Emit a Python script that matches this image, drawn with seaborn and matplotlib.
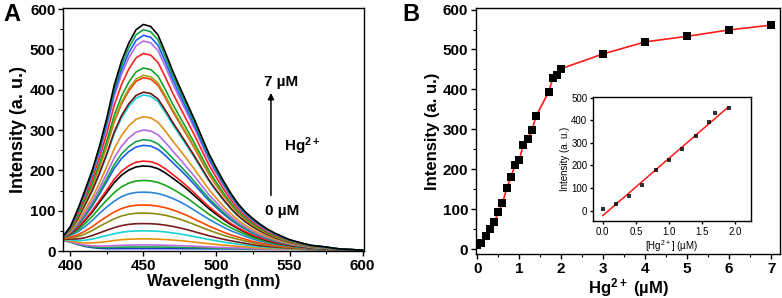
import numpy as np
import pandas as pd
import matplotlib
matplotlib.use("Agg")
import matplotlib.pyplot as plt
from matplotlib.ticker import MultipleLocator, FormatStrFormatter
import seaborn as sns

# ---------------- data ----------------
# Panel A: emission spectra
wavelength = list(range(395, 601, 5))
# top (7 uM) spectrum, absolute intensities
top_spectrum = [36, 60, 102, 150, 200, 260, 330, 410, 470, 515, 548, 561, 556, 535,
                492, 446, 405, 365, 325, 282, 240, 205, 172, 142, 116, 96, 80, 66,
                54, 44, 36, 28, 23, 18, 14, 12, 10, 7, 5, 4, 3, 2]
# normalised shape of the low-intensity spectra
broad_shape = [0.05, 0.12, 0.22, 0.35, 0.48, 0.62, 0.74, 0.84, 0.92, 0.97, 0.995, 1.0,
               0.995, 0.975, 0.94, 0.89, 0.83, 0.76, 0.68, 0.60, 0.52, 0.45, 0.38,
               0.32, 0.27, 0.22, 0.18, 0.145, 0.115, 0.09, 0.07, 0.055, 0.042,
               0.032, 0.024, 0.018, 0.013, 0.009, 0.006, 0.004, 0.003, 0.002]
# baseline (0 uM background)
baseline = [26, 22, 16, 11, 8, 6] + [5] * 20 + [4] * 8 + [3] * 4 + [2] * 4
# peak intensity of every spectrum (low -> high)
spectrum_peaks = [6, 10, 15, 30, 50, 68, 94, 114, 146, 175, 211, 223, 262, 276, 300,
                  333, 387, 394, 430, 436, 454, 490, 521, 535, 549, 562]
spectrum_colors = ['#1a3cc8', '#16a34a', '#c36be0', '#e8900c', '#19d3d3', '#7b1c1c',
                   '#8a8a12', '#ff4500', '#2a85d8', '#1aa31a', '#000000', '#ff1a1a',
                   '#1a5ee8', '#14a04a', '#b36be6', '#e0901a', '#1ad0d8', '#6b1414',
                   '#ff3a0a', '#a8a018', '#14a02a', '#ff2020', '#b86ae8', '#1a5eff',
                   '#10a050', '#000000']
broad_cap = 150

# Panel B: titration curve
hg_conc = [0, 0.1, 0.2, 0.3, 0.4, 0.5, 0.6, 0.7, 0.8, 0.9, 1.0, 1.1, 1.2, 1.3, 1.4,
           1.7, 1.8, 1.9, 2.0, 3, 4, 5, 6, 7]
hg_intensity = [10, 15, 32, 50, 67, 92, 115, 152, 180, 210, 224, 262, 275, 298, 333,
                394, 428, 435, 452, 489, 519, 533, 549, 561]
# Inset: linear range
lin_conc = [0, 0.2, 0.4, 0.6, 0.8, 1.0, 1.2, 1.4, 1.6, 1.7, 1.9]
lin_intensity = [7, 29, 63, 112, 178, 223, 273, 332, 391, 434, 453]

# ---------------- build spectra table ----------------
wl = np.array(wavelength, float)
top = np.array(top_spectrum, float)
brd = np.array(broad_shape, float)
bg = np.array(baseline, float)
narrow = np.clip(top - bg - broad_cap * brd, 0, None)
narrow = narrow / narrow.max()
rows = []
for i, pk in enumerate(spectrum_peaks):
    amp = pk - 5
    b = min(amp, broad_cap)
    n = amp - b
    vals = bg + b * brd + n * narrow
    for w, v in zip(wl, vals):
        rows.append((w, v, f"c{i}"))
spec = pd.DataFrame(rows, columns=["wl", "I", "curve"])
palette = {f"c{i}": c for i, c in enumerate(spectrum_colors)}

# ---------------- style ----------------
sns.set_theme(style="ticks")
plt.rcParams['font.family'] = ['Liberation Sans', 'DejaVu Sans']
plt.rcParams['mathtext.fontset'] = 'custom'
plt.rcParams['mathtext.rm'] = 'Liberation Sans'
plt.rcParams['mathtext.bf'] = 'Liberation Sans:bold'
plt.rcParams['mathtext.default'] = 'regular'
plt.rcParams['axes.linewidth'] = 1.0
plt.rcParams['text.color'] = 'black'
plt.rcParams['axes.labelcolor'] = 'black'
plt.rcParams['axes.edgecolor'] = 'black'
for ax_ in ('xtick', 'ytick'):
    plt.rcParams[f'{ax_}.major.size'] = 3.5
    plt.rcParams[f'{ax_}.minor.size'] = 2
    plt.rcParams[f'{ax_}.major.width'] = 1.0
    plt.rcParams[f'{ax_}.minor.width'] = 0.8
    plt.rcParams[f'{ax_}.direction'] = 'out'
    plt.rcParams[f'{ax_}.color'] = 'black'
    plt.rcParams[f'{ax_}.labelcolor'] = 'black'

fig = plt.figure(figsize=(7.82, 2.98), dpi=100)
axA = fig.add_axes([0.0806, 0.1577, 0.3849, 0.8171])
axB = fig.add_axes([0.6087, 0.1477, 0.3887, 0.8243])
axI = fig.add_axes([0.7583, 0.2584, 0.2021, 0.4161])

# ---------------- panel A ----------------
sns.lineplot(data=spec, x="wl", y="I", hue="curve", palette=palette, legend=False,
             linewidth=1.2, errorbar=None, ax=axA)
axA.set_xlim(395, 601)
axA.set_ylim(0, 604)
axA.xaxis.set_major_locator(MultipleLocator(50))
axA.xaxis.set_minor_locator(MultipleLocator(25))
axA.yaxis.set_major_locator(MultipleLocator(100))
axA.yaxis.set_minor_locator(MultipleLocator(50))
axA.set_xlabel("Wavelength (nm)", fontsize=12, fontweight='bold', labelpad=1)
axA.set_ylabel("Intensity (a. u.)", fontsize=13, fontweight='bold', labelpad=2)
for lab in axA.get_xticklabels() + axA.get_yticklabels():
    lab.set_fontweight('bold')
    lab.set_fontsize(11)
axA.tick_params(pad=2)
axA.annotate("", xy=(537.3, 392), xytext=(537.3, 138),
             arrowprops=dict(arrowstyle="-|>", color='black', lw=1.1,
                             mutation_scale=9, shrinkA=0, shrinkB=0))
axA.text(532.5, 419, "7 µM", fontsize=11, fontweight='bold', ha='left', va='center')
axA.text(533.0, 99, "0 µM", fontsize=11, fontweight='bold', ha='left', va='center')
axA.text(546, 260, "Hg$^{2+}$", fontsize=11, fontweight='bold', ha='left', va='center')

# ---------------- panel B ----------------
sns.lineplot(x=hg_conc, y=hg_intensity, color='#ff1a1a', linewidth=1.2, ax=axB)
sns.scatterplot(x=hg_conc, y=hg_intensity, marker='s', color='black', s=28,
                linewidth=0, zorder=3, ax=axB)
axB.set_xlim(-0.03, 7.21)
axB.set_ylim(-12, 603)
axB.xaxis.set_major_locator(MultipleLocator(1))
axB.xaxis.set_minor_locator(MultipleLocator(0.5))
axB.yaxis.set_major_locator(MultipleLocator(100))
axB.yaxis.set_minor_locator(MultipleLocator(50))
axB.set_xlabel("Hg$^{2+}$ (µM)", fontsize=12, fontweight='bold', labelpad=0)
axB.set_ylabel("Intensity (a. u.)", fontsize=12, fontweight='bold', labelpad=2)
for lab in axB.get_xticklabels() + axB.get_yticklabels():
    lab.set_fontweight('bold')
    lab.set_fontsize(11)
axB.tick_params(pad=2)

# ---------------- inset ----------------
sns.regplot(x=lin_conc, y=lin_intensity, ci=None, marker='s',
            scatter_kws=dict(s=5, color='black', linewidths=0, zorder=3),
            line_kws=dict(color='#ff1a1a', lw=1.1), ax=axI)
axI.set_xlim(-0.146, 2.237)
axI.set_ylim(-46, 503)
axI.xaxis.set_major_locator(MultipleLocator(0.5))
axI.yaxis.set_major_locator(MultipleLocator(100))
axI.xaxis.set_major_formatter(FormatStrFormatter('%.1f'))
axI.tick_params(labelsize=7, pad=1.5, length=2.5)
axI.set_xlabel("[Hg$^{2+}$] (µM)", fontsize=7, labelpad=1)
axI.set_ylabel("Intensity (a. u.)", fontsize=7, labelpad=1)

fig.text(0.004, 0.99, "A", fontsize=17, fontweight='bold', va='top', ha='left')
fig.text(0.515, 0.99, "B", fontsize=17, fontweight='bold', va='top', ha='left')

fig.savefig("out.png", dpi=100)
